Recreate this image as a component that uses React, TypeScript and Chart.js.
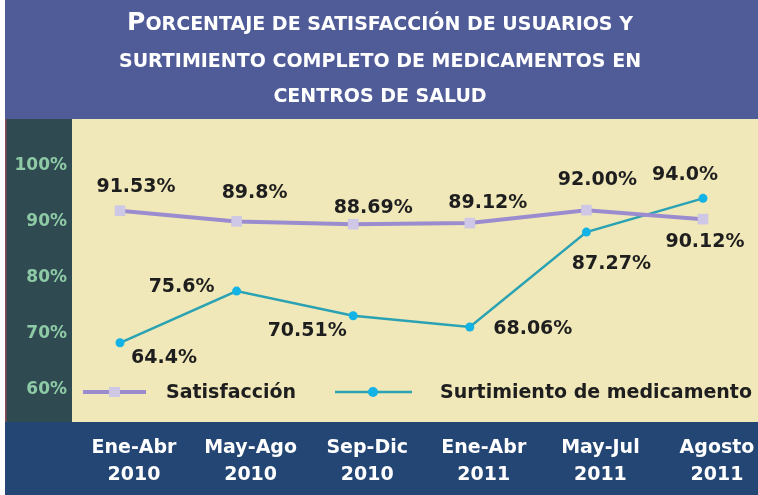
import React, { useEffect, useRef } from "react";
import { Chart, registerables } from "chart.js";

Chart.register(...registerables);

const titleFirstLetter = "P";
const titleLine1Rest = "ORCENTAJE DE SATISFACCIÓN DE USUARIOS Y";
const titleLine2 = "SURTIMIENTO COMPLETO DE MEDICAMENTOS EN";
const titleLine3 = "CENTROS DE SALUD";

const categories: string[][] = [
  ["Ene-Abr", "2010"],
  ["May-Ago", "2010"],
  ["Sep-Dic", "2010"],
  ["Ene-Abr", "2011"],
  ["May-Jul", "2011"],
  ["Agosto", "2011"],
];

const satisfaccion = [91.9, 90.0, 89.5, 89.7, 92.0, 90.4];
const surtimiento = [68.4, 77.6, 73.2, 71.2, 88.1, 94.1];

const satisfaccionLabels = ["91.53%", "89.8%", "88.69%", "89.12%", "92.00%", "90.12%"];
const surtimientoLabels = ["64.4%", "75.6%", "70.51%", "68.06%", "87.27%", "94.0%"];

const yTicks = [60, 70, 80, 90, 100];

const seriesNames = ["Satisfacción", "Surtimiento de medicamento"];

// label placement offsets (style), relative to each point
const labelOffsets: number[][][] = [
  [[16, -25], [18, -29], [20, -17], [18, -21], [11, -31], [2, 22]],
  [[44, 14], [-55, -5], [-46, 14], [63, 1], [25, 31], [-18, -24]],
];

const FONT = '"DejaVu Sans", sans-serif';
const PURPLE = "#9b8ccf";
const PURPLE_PT = "#cec7e6";
const TEAL = "#2aa2b3";
const TEAL_PT = "#13b3e6";

const backgroundPlugin = {
  id: "bgPanels",
  beforeDraw(chart: any) {
    const ctx = chart.ctx;
    const W = chart.width;
    const H = chart.height;
    ctx.save();
    ctx.fillStyle = "#ffffff";
    ctx.fillRect(0, 0, W, H);
    ctx.fillStyle = "#4f5c98";
    ctx.fillRect(5, 0, W - 5, 119);
    ctx.fillStyle = "#2f4b51";
    ctx.fillRect(5, 119, 67, 303);
    ctx.fillStyle = "#f0e8b9";
    ctx.fillRect(72, 119, W - 72, 303);
    ctx.fillStyle = "#234675";
    ctx.fillRect(5, 422, W - 5, H - 422);
    ctx.fillStyle = "#8a4a55";
    ctx.fillRect(5, 119, 1.5, 303);

    // title
    ctx.fillStyle = "#ffffff";
    ctx.textBaseline = "alphabetic";
    ctx.textAlign = "left";
    const cx = 380;
    ctx.font = `bold 25px ${FONT}`;
    const wP = ctx.measureText(titleFirstLetter).width;
    ctx.font = `bold 19px ${FONT}`;
    const wRest = ctx.measureText(titleLine1Rest).width;
    const start1 = cx - (wP + wRest) / 2;
    ctx.font = `bold 25px ${FONT}`;
    ctx.fillText(titleFirstLetter, start1, 30);
    ctx.font = `bold 19px ${FONT}`;
    ctx.fillText(titleLine1Rest, start1 + wP, 30);
    ctx.textAlign = "center";
    ctx.fillText(titleLine2, cx, 66.5);
    ctx.fillText(titleLine3, cx, 102);
    ctx.restore();
  },
};

const labelsPlugin = {
  id: "valueLabelsAndLegend",
  afterDatasetsDraw(chart: any) {
    const ctx = chart.ctx;
    const texts = [satisfaccionLabels, surtimientoLabels];
    ctx.save();
    ctx.font = `bold 19px ${FONT}`;
    ctx.fillStyle = "#1e1e1e";
    ctx.textAlign = "center";
    ctx.textBaseline = "middle";
    texts.forEach((arr, di) => {
      const meta = chart.getDatasetMeta(di);
      meta.data.forEach((pt: any, i: number) => {
        const off = labelOffsets[di][i];
        ctx.fillText(arr[i], pt.x + off[0], pt.y + off[1] + 1);
      });
    });

    // legend
    const ly = 392;
    ctx.lineCap = "butt";
    ctx.strokeStyle = PURPLE;
    ctx.lineWidth = 4;
    ctx.beginPath();
    ctx.moveTo(83, ly);
    ctx.lineTo(146, ly);
    ctx.stroke();
    ctx.fillStyle = PURPLE_PT;
    ctx.fillRect(109, ly - 5, 11, 10);

    ctx.strokeStyle = TEAL;
    ctx.lineWidth = 2.5;
    ctx.beginPath();
    ctx.moveTo(335, ly);
    ctx.lineTo(412, ly);
    ctx.stroke();
    ctx.fillStyle = TEAL_PT;
    ctx.beginPath();
    ctx.arc(373, ly, 5, 0, Math.PI * 2);
    ctx.fill();

    ctx.fillStyle = "#1e1e1e";
    ctx.textAlign = "left";
    ctx.font = `bold 19px ${FONT}`;
    ctx.fillText(seriesNames[0], 166, ly + 1);
    ctx.fillText(seriesNames[1], 440, ly + 1);
    ctx.restore();
  },
};

export default function App() {
  const ref = useRef<HTMLCanvasElement | null>(null);

  useEffect(() => {
    if (!ref.current) return;
    const chart = new Chart(ref.current, {
      type: "line",
      data: {
        labels: categories,
        datasets: [
          {
            label: seriesNames[0],
            data: satisfaccion,
            borderColor: PURPLE,
            borderWidth: 4,
            pointStyle: "rect",
            pointRadius: 7.5,
            pointBackgroundColor: PURPLE_PT,
            pointBorderWidth: 0,
            pointBorderColor: PURPLE_PT,
            tension: 0,
            clip: false,
          } as any,
          {
            label: seriesNames[1],
            data: surtimiento,
            borderColor: TEAL,
            borderWidth: 2.5,
            pointStyle: "circle",
            pointRadius: 4.5,
            pointBackgroundColor: TEAL_PT,
            pointBorderWidth: 0,
            pointBorderColor: TEAL_PT,
            tension: 0,
            clip: false,
          } as any,
        ],
      },
      options: {
        responsive: false,
        animation: false,
        devicePixelRatio: 1,
        layout: { padding: { top: 118, left: 0, right: 55, bottom: 0 } },
        plugins: {
          legend: { display: false },
          title: { display: false },
          tooltip: { enabled: false },
        },
        scales: {
          x: {
            type: "category",
            offset: false,
            grid: { display: false, drawTicks: false },
            border: { display: false },
            ticks: {
              color: "#ffffff",
              font: { family: FONT, weight: "bold", size: 19, lineHeight: "27px" } as any,
              padding: 13,
              labelOffset: 14,
              maxRotation: 0,
              minRotation: 0,
              autoSkip: false,
            },
            afterFit: (s: any) => {
              s.height = 73;
            },
          },
          y: {
            type: "linear",
            min: 54.3,
            max: 108.4,
            grid: { display: false, drawTicks: false },
            border: { display: false },
            afterBuildTicks: (s: any) => {
              s.ticks = yTicks.map((v) => ({ value: v }));
            },
            afterFit: (s: any) => {
              s.width = 120;
            },
            ticks: {
              color: "#8ecaa6",
              font: { family: FONT, weight: "bold", size: 17 },
              padding: 53,
              callback: (v: any) => `${v}%`,
            },
          },
        },
      },
      plugins: [backgroundPlugin, labelsPlugin],
    });
    return () => chart.destroy();
  }, []);

  return (
    <div style={{ position: "absolute", left: 0, top: 0, width: 758, height: 495 }}>
      <canvas ref={ref} width={758} height={495} style={{ display: "block", width: 758, height: 495 }} />
    </div>
  );
}
